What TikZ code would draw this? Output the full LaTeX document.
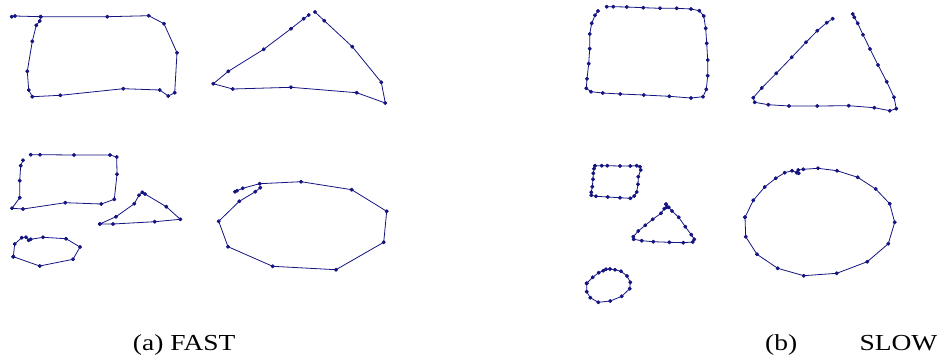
\documentclass[tikz,border=0pt]{standalone}
\usepackage{fontspec}
\setmainfont{Liberation Serif}
\definecolor{navyline}{RGB}{20,20,130}
\tikzset{
  poly/.style={draw=navyline, line width=0.8bp, line join=round, mark=*, mark size=1.6bp, mark options={fill=navyline, draw=navyline}},
  caption/.style={anchor=base west, inner sep=0pt, font=\fontsize{23}{26}\selectfont, xscale=1.2, transform shape}
}
\begin{document}
\begin{tikzpicture}[x=1bp, y=-1bp]
\useasboundingbox (0,0) rectangle (937,361);
% (a) FAST
\draw[poly] plot coordinates {(11.7,16.7) (15,16) (40.7,16.7) (107.3,16.7) (148.7,15.7) (164,23.7) (177,52.7) (174.7,92.7) (168.3,96) (159.7,90) (123.3,88.7) (60.3,95.3) (32.3,96.7) (28.7,90) (27.3,71.3) (32.3,41.3) (36.3,25.3) (39.7,21) (40.7,16.7)};
\draw[poly] plot coordinates {(308.7,15) (303.7,18.7) (291,28.7) (263.7,49.3) (228.3,71.3) (213.3,83.7) (232.7,89) (291,87.3) (356.7,92.7) (385.3,103) (381.3,82.3) (352.3,46.7) (324.3,20.7) (315,12)};
\draw[poly] plot coordinates {(30.7,154.7) (40,154.7) (74,155) (110,155) (116.7,157) (117,174.3) (114.3,199.3) (101.3,204) (65.3,202.7) (23,209) (12,208.3) (19.7,197.7) (19.7,180.7) (20.7,165.7) (23,160.3)};
\draw[poly] plot coordinates {(99.7,224) (113,224) (154.7,221.7) (180.3,219.3) (166.3,206.7) (145,194) (142.3,192.3) (139,195.3) (134.3,203.7) (116,216.7) (99.7,224)};
\draw[poly] plot coordinates {(13.3,256.7) (14.7,244) (21.7,237.7) (26,237.3) (28.7,240.3) (30.7,239.3) (43,237.3) (66,238.7) (80,247) (73,259.3) (39.7,266) (13.3,256.7)};
\draw[poly] plot coordinates {(235,191.7) (237,190.7) (242.7,188.3) (259.7,183.7) (301,181.7) (351.7,189.7) (386.7,211.3) (383.7,242.3) (336,269.7) (272.7,266.3) (228,246.7) (218.7,221.3) (239.3,201.3) (255.3,191.7) (260.3,187.7)};
% (b) SLOW
\draw[poly] plot coordinates {(606.7,6.7) (613.3,6.7) (626.7,7) (643.3,7.7) (660,8.3) (676.7,8.3) (691,9) (699.3,10.7) (703.7,16) (705.7,28.3) (706.7,43.3) (707.7,60) (707.7,75.7) (706.3,89.3) (703,96.7) (691,98) (669.3,96.3) (643.7,95) (620.3,94) (602.7,93) (591,91.7) (586.3,88.3) (587,78.7) (588.7,63.7) (589.7,48.7) (589.7,34) (591.7,23.3) (595,15.3) (598,11)};
\draw[poly] plot coordinates {(832.7,18.7) (826.7,22.7) (817.3,30.7) (806,42.3) (791.7,57.3) (776.3,73.3) (761.7,88) (753.3,97.7) (754.7,102.3) (768.3,104.7) (789,106) (817.3,106) (848.7,105.7) (874.3,107.7) (889.7,110.7) (896.3,108.7) (894,97.3) (886.7,81.7) (878,65) (870,49) (863,34.7) (857.7,23.3) (854.3,17.3) (852.7,14)};
\draw[poly] plot coordinates {(595,165.7) (601.7,165.7) (607.3,165.7) (620,166) (630.3,166) (636.7,165.7) (640,166.7) (640.7,170) (638.3,176.7) (638,184.3) (636.7,192) (634.3,196) (630.3,198.3) (620,197.7) (607.7,197) (596,196.3) (591.3,195.3) (591.3,192.3) (592.3,186.7) (593,179.3) (593.3,173.3) (594,168.7) (595,165.7)};
\draw[poly] plot coordinates {(666,204.3) (666.7,207.3) (664.3,208.7) (661,213.3) (652.7,219.3) (645.3,225.3) (638.3,231) (633.3,236.7) (633.7,239.3) (641.7,240.7) (653.3,241.7) (669.3,242.3) (683.3,242.7) (692.7,242) (694.3,239.3) (691.3,234.7) (685.3,226.7) (678.7,217.3) (672,211) (668.7,207.3) (666,204.3)};
\draw[poly] plot coordinates {(586.7,283.3) (586.7,291.7) (590.3,297.7) (598.3,302.3) (610.3,301) (621.7,296.3) (629.7,288.7) (630.3,282.3) (627,276) (621,271.3) (615,269.7) (610,269) (606,269.3) (603.3,270.7) (598.7,272.7) (592.7,277.3) (586.7,283.3)};
\draw[poly] plot coordinates {(745,217.3) (745.7,236.7) (757,254.3) (777.7,268.3) (803.7,275.7) (836.7,273.3) (867.3,261.7) (888.3,243.7) (894.7,222.3) (889.7,203.7) (875.7,189) (857.7,177.3) (837,170.7) (818,168.3) (803.3,169.3) (798.3,170) (796.7,172.7) (798.7,173.3) (792,170.7) (784.7,172.7) (775.7,178.3) (764.7,187) (753.3,200.3) (745,217.3)};
% captions
\node[caption] (capa) at (132.7,350) {(a) FAST};
\node[caption] (capb) at (765,350) {(b)};
\node[caption] (capc) at (859.3,350) {SLOW};
\end{tikzpicture}
\end{document}
